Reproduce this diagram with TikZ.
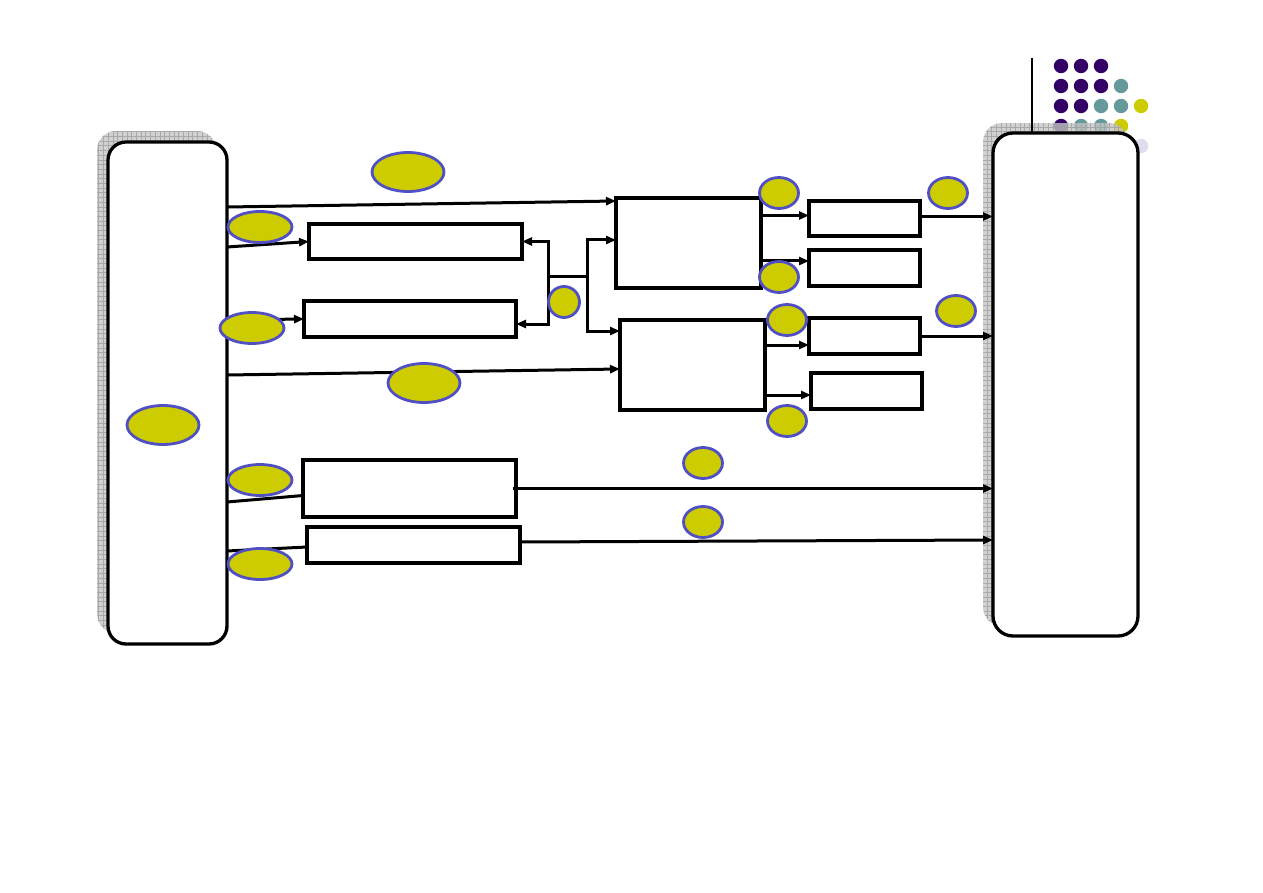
\documentclass[tikz,border=0pt]{standalone}
\usetikzlibrary{arrows.meta,shapes.geometric,calc}
\definecolor{tagfill}{HTML}{CCCC00}
\definecolor{tagline}{HTML}{5050C4}
\definecolor{dotpurple}{HTML}{330066}
\definecolor{dotteal}{HTML}{669999}
\definecolor{dotlav}{HTML}{DDDDEE}
\definecolor{shadowgray}{HTML}{C6C6C6}
\definecolor{gridgray}{HTML}{A0A0A0}
\tikzset{
  block/.style={draw, line width=3.3pt, fill=white, inner sep=0pt, outer sep=0pt},
  tag/.style={ellipse, draw=tagline, fill=tagfill, line width=2.8pt, inner sep=0pt},
  link/.style={line width=3pt},
}
\begin{document}
\begin{tikzpicture}[x=1pt, y=-1pt, >={Triangle[length=10pt,width=8pt]}]
    \useasboundingbox (0,0) rectangle (1263,893);

    % corner dots
    \foreach \c/\x/\y in {dotpurple/1061/66, dotpurple/1081/66, dotpurple/1101/66,
        dotpurple/1061/86, dotpurple/1081/86, dotpurple/1101/86, dotteal/1121/86,
        dotpurple/1061/106, dotpurple/1081/106, dotteal/1101/106, dotteal/1121/106, tagfill/1141/106,
        dotpurple/1061/126, dotteal/1081/126, dotteal/1101/126, tagfill/1121/126, dotlav/1141/146}
      \fill[\c] (\x,\y) circle (7.2);
    \coordinate (mark) at (1032,58);

    % shadows
    \foreach \xa/\ya/\xb/\yb in {97/131/216/633, 983/123/1128/626} {
      \begin{scope}[fill opacity=0.8, draw opacity=0.8]
        \clip[rounded corners=19] (\xa,\ya) rectangle (\xb,\yb);
        \fill[shadowgray] (\xa,\ya) rectangle (\xb,\yb);
        \draw[gridgray, line width=0.45pt, step=4.7pt] (\xa,\ya) grid (\xb,\yb);
      \end{scope}
    }

    % main boxes
    \node[block, rounded corners=18pt, minimum width=119pt, minimum height=502pt] (src) at (167.5,393) {};
    \node[block, rounded corners=20pt, minimum width=145pt, minimum height=503pt] (dst) at (1065.5,384.5) {};
    \draw[line width=1.2pt] (mark) -- (mark |- dst.north);

    \node[block, minimum width=213pt, minimum height=35pt] (upA) at (415.5,241.5) {};
    \node[block, minimum width=212pt, minimum height=36pt] (upB) at (410,319) {};
    \node[block, minimum width=145pt, minimum height=90pt] (mixC) at (688.5,243) {};
    \node[block, minimum width=145pt, minimum height=90pt] (mixD) at (692.5,365) {};
    \node[block, minimum width=111pt, minimum height=35pt] (outE) at (864.5,218.5) {};
    \node[block, minimum width=111pt, minimum height=36pt] (outF) at (864.5,268) {};
    \node[block, minimum width=111pt, minimum height=36pt] (outG) at (864.5,336) {};
    \node[block, minimum width=111pt, minimum height=36pt] (outH) at (866.5,391) {};
    \node[block, minimum width=213pt, minimum height=57pt] (lowI) at (409.5,488.5) {};
    \node[block, minimum width=213pt, minimum height=36pt] (lowJ) at (413.5,545) {};

    % links from the source
    \draw[link, ->] ($(src.north east)+(0,65)$) -- ($(mixC.north west)+(0,3)$);
    \draw[link, ->] ($(src.north east)+(0,105)$) -- (upA.west);
    \draw[link, ->] ($(src.north east)+(0,178)$) -- (upB.west);
    \draw[link, ->] ($(src.north east)+(0,233)$) -- ($(mixD.west)+(0,4)$);
    \draw[link] ($(src.north east)+(0,360)$) -- ($(lowI.west)+(0,7)$);
    \draw[link] ($(src.north east)+(0,409)$) -- ($(lowJ.west)+(0,2)$);

    % middle split
    \coordinate (splitL) at (548,277);
    \coordinate (splitR) at (587,277);
    \draw[link, <->] (upA.east) -| (splitL) |- ($(upB.east)+(0,5)$);
    \draw[link, <->] ($(mixC.west)+(0,-3)$) -| (splitR) |- ($(mixD.north west)+(0,11)$);
    \draw[link] (splitL) -- (splitR);

    % to the outputs
    \draw[link, ->] ($(mixC.east |- outE.west)+(0,-3)$) -- ($(outE.west)+(0,-3)$);
    \draw[link, ->] ($(mixC.east |- outF.north west)+(0,11)$) -- ($(outF.north west)+(0,11)$);
    \draw[link, ->] ($(mixD.east |- outG.south west)+(0,-9)$) -- ($(outG.south west)+(0,-9)$);
    \draw[link, ->] ($(mixD.east |- outH.west)+(0,4)$) -- ($(outH.west)+(0,4)$);
    \draw[link, ->] ($(outE.east)+(0,-2)$) -- ($(dst.west |- outE.east)+(0,-2)$);
    \draw[link, ->] (outG.east) -- (dst.west |- outG.east);
    \draw[link, ->] ($(lowI.east)+(-3,0)$) -- (dst.west |- lowI.east);
    \draw[link, ->] ($(lowJ.east)+(0,-3)$) -- ($(dst.west |- lowJ.east)+(0,-5)$);

    % tags
    \node[tag, minimum width=72pt, minimum height=39pt] (t1) at (408,172) {};
    \node[tag, minimum width=64pt, minimum height=31pt] (t2) at (260,227) {};
    \node[tag, minimum width=64pt, minimum height=31pt] (t3) at (252,328) {};
    \node[tag, minimum width=72pt, minimum height=39pt] (t4) at (424,383) {};
    \node[tag, minimum width=72pt, minimum height=39pt] (t5) at (163,425) {};
    \node[tag, minimum width=64pt, minimum height=31pt] (t6) at (260,480) {};
    \node[tag, minimum width=64pt, minimum height=31pt] (t7) at (260,564) {};
    \node[tag, minimum width=31pt, minimum height=31pt] (t8) at (564,302) {};
    \node[tag, minimum width=39pt, minimum height=31pt] (t9) at (779,193) {};
    \node[tag, minimum width=39pt, minimum height=31pt] (t10) at (779,277) {};
    \node[tag, minimum width=39pt, minimum height=31pt] (t11) at (948,193) {};
    \node[tag, minimum width=39pt, minimum height=31pt] (t12) at (787,320) {};
    \node[tag, minimum width=39pt, minimum height=31pt] (t13) at (956,311) {};
    \node[tag, minimum width=39pt, minimum height=31pt] (t14) at (787,421) {};
    \node[tag, minimum width=39pt, minimum height=31pt] (t15) at (703,463) {};
    \node[tag, minimum width=39pt, minimum height=31pt] (t16) at (703,522) {};
\end{tikzpicture}
\end{document}
